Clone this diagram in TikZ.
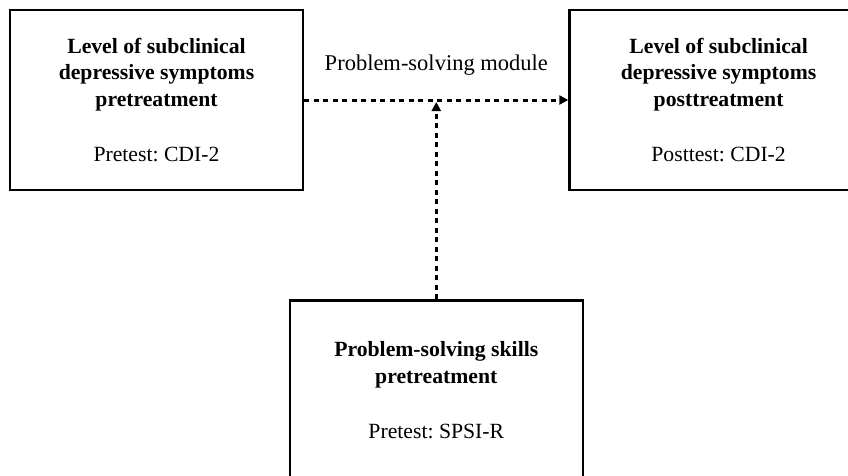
\documentclass[tikz,border=0pt]{standalone}
\usepackage{fontspec}
\setmainfont{Liberation Serif}
\usepackage{tikz}
\usetikzlibrary{arrows.meta, positioning, calc}
\frenchspacing
\tikzset{
	blk/.style ={rectangle, draw=black, line width=2.6pt, minimum width=293pt, minimum height=180pt, align=center, inner sep=0pt, font=\fontsize{21.7}{26.5}\selectfont},
	sig/.style ={-{Triangle[length=9pt, width=9pt]}, line width=3pt, dash pattern=on 5pt off 4.5pt},
}

\begin{document}
\begin{tikzpicture}[x=1pt, y=1pt]
	\useasboundingbox (0,0) rectangle (848,-475);
	\clip (0,0) rectangle (848,-475);
	\node[blk] (lvlpre) at (156.5,-100) {\textbf{Level of subclinical}\\ \textbf{depressive symptoms}\\ \textbf{pretreatment}\\[28.5pt] Pretest: CDI-2};
	\node[blk, right=264pt of lvlpre, minimum width=298pt] (lvlpost) {\textbf{Level of subclinical}\\ \textbf{depressive symptoms}\\ \textbf{posttreatment}\\[28.5pt] Posttest: CDI-2};
	\coordinate (mid) at ($(lvlpre.east)!0.5!(lvlpost.west)$);
	\node[blk, below=199pt of mid] (psskills) {\textbf{Problem-solving skills}\\ \textbf{pretreatment}\\[28.5pt] Pretest: SPSI-R};
	\node[font=\fontsize{22.5}{27}\selectfont] (modlbl) at ($(mid)+(0,35)$) {Problem-solving module};
	\draw[sig] (lvlpre) -- (lvlpost);
	\draw[sig, shorten >=2pt] (psskills) -- (mid);
\end{tikzpicture}
\end{document}
